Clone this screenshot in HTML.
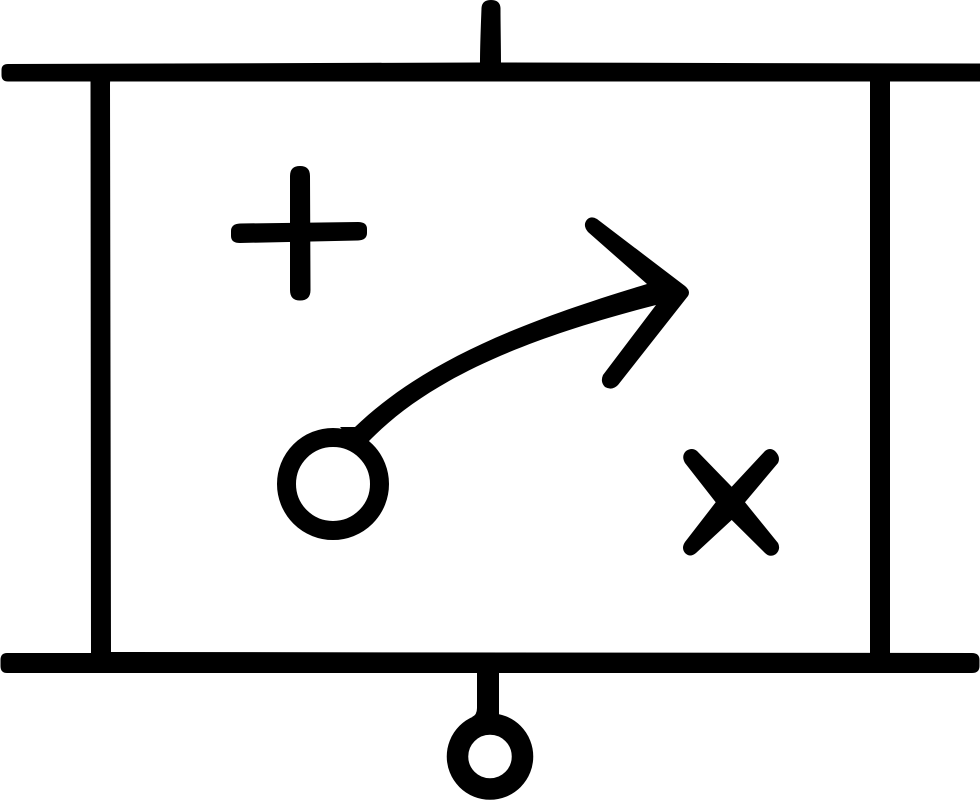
<!DOCTYPE html>
<html>
<head>
<meta charset="utf-8">
<style>
html,body{margin:0;padding:0;background:#fff;width:980px;height:800px;overflow:hidden}
svg{display:block}
</style>
</head>
<body>
<svg width="980" height="800" viewBox="0 0 980 800" xmlns="http://www.w3.org/2000/svg" fill="#000">
<rect width="980" height="800" fill="#fff"/>
<!-- top stem -->
<path d="M480 66 C480 45 481 22 481.500 8 Q482 0 491 0 Q500 0 500.500 8 C500.500 25 501 45 501 66 Z"/>
<!-- top bar -->
<path d="M8 64 L480 62.500 L980 63.500 L980 81.500 L500 81.500 L8 81.500 Q1.500 81.500 1.500 75 L1.500 70 Q1.500 64 8 64 Z"/>
<!-- bottom bar -->
<path d="M7 653 L91 653 L111 652 L972 653 Q979.500 653 979.500 660 L979.500 666 Q979.500 673 972 673 L500 673 L7 673 Q0.500 673 0.500 666 L0.500 660 Q0.500 653 7 653 Z"/>
<!-- side posts -->
<path d="M90.500 70 L110.500 70 L110 84 L111 660 L91 660 Z"/>
<rect x="870" y="70" width="20" height="590"/>
<!-- bottom stem and circle -->
<rect x="477" y="668" width="22" height="50"/>
<path d="M477 708 Q477 715 472 717 L490 716 Z"/>
<circle cx="490" cy="756.500" r="32.500" fill="none" stroke="#000" stroke-width="21.500"/>
<!-- plus -->
<path d="M290 176 Q290 166 300 166 Q310 166 310 176 L310.500 290 Q310.500 300.500 300 300.500 Q290 300.500 290 290 Z"/>
<path d="M240 223.500 L358 222 Q367 222 367 229 L367 233 Q367 240 358 240.500 L240 243 Q231 243 231 236 L231 231 Q231 224 240 223.500 Z"/>
<!-- circle -->
<circle cx="333" cy="484" r="46.500" fill="none" stroke="#000" stroke-width="19"/>
<!-- arrow -->
<path d="M340 427 L355 427 C420 365 510 325 647 284 L588 232 Q583 226 586 221 Q590 215 597 219 L685 286 Q691 291 688 296 L618 385 Q612 391 605 387 Q600 382 603 375 L656 305 C520 340 430 380 372 438 L360 450 Z"/>
<!-- x -->
<path d="M731.700 486.700 L765 451 Q770 447 775 451 Q781 457 778 463 L745 502.300 L778 543 Q781 549 776 554 Q770 558 765 553 L731.700 520 L696 553 Q690 558 685 553 Q681 548 685 542 L715.700 502.300 L685 463 Q681 456 686 451 Q692 447 697 451 Z"/>
</svg>
</body>
</html>
